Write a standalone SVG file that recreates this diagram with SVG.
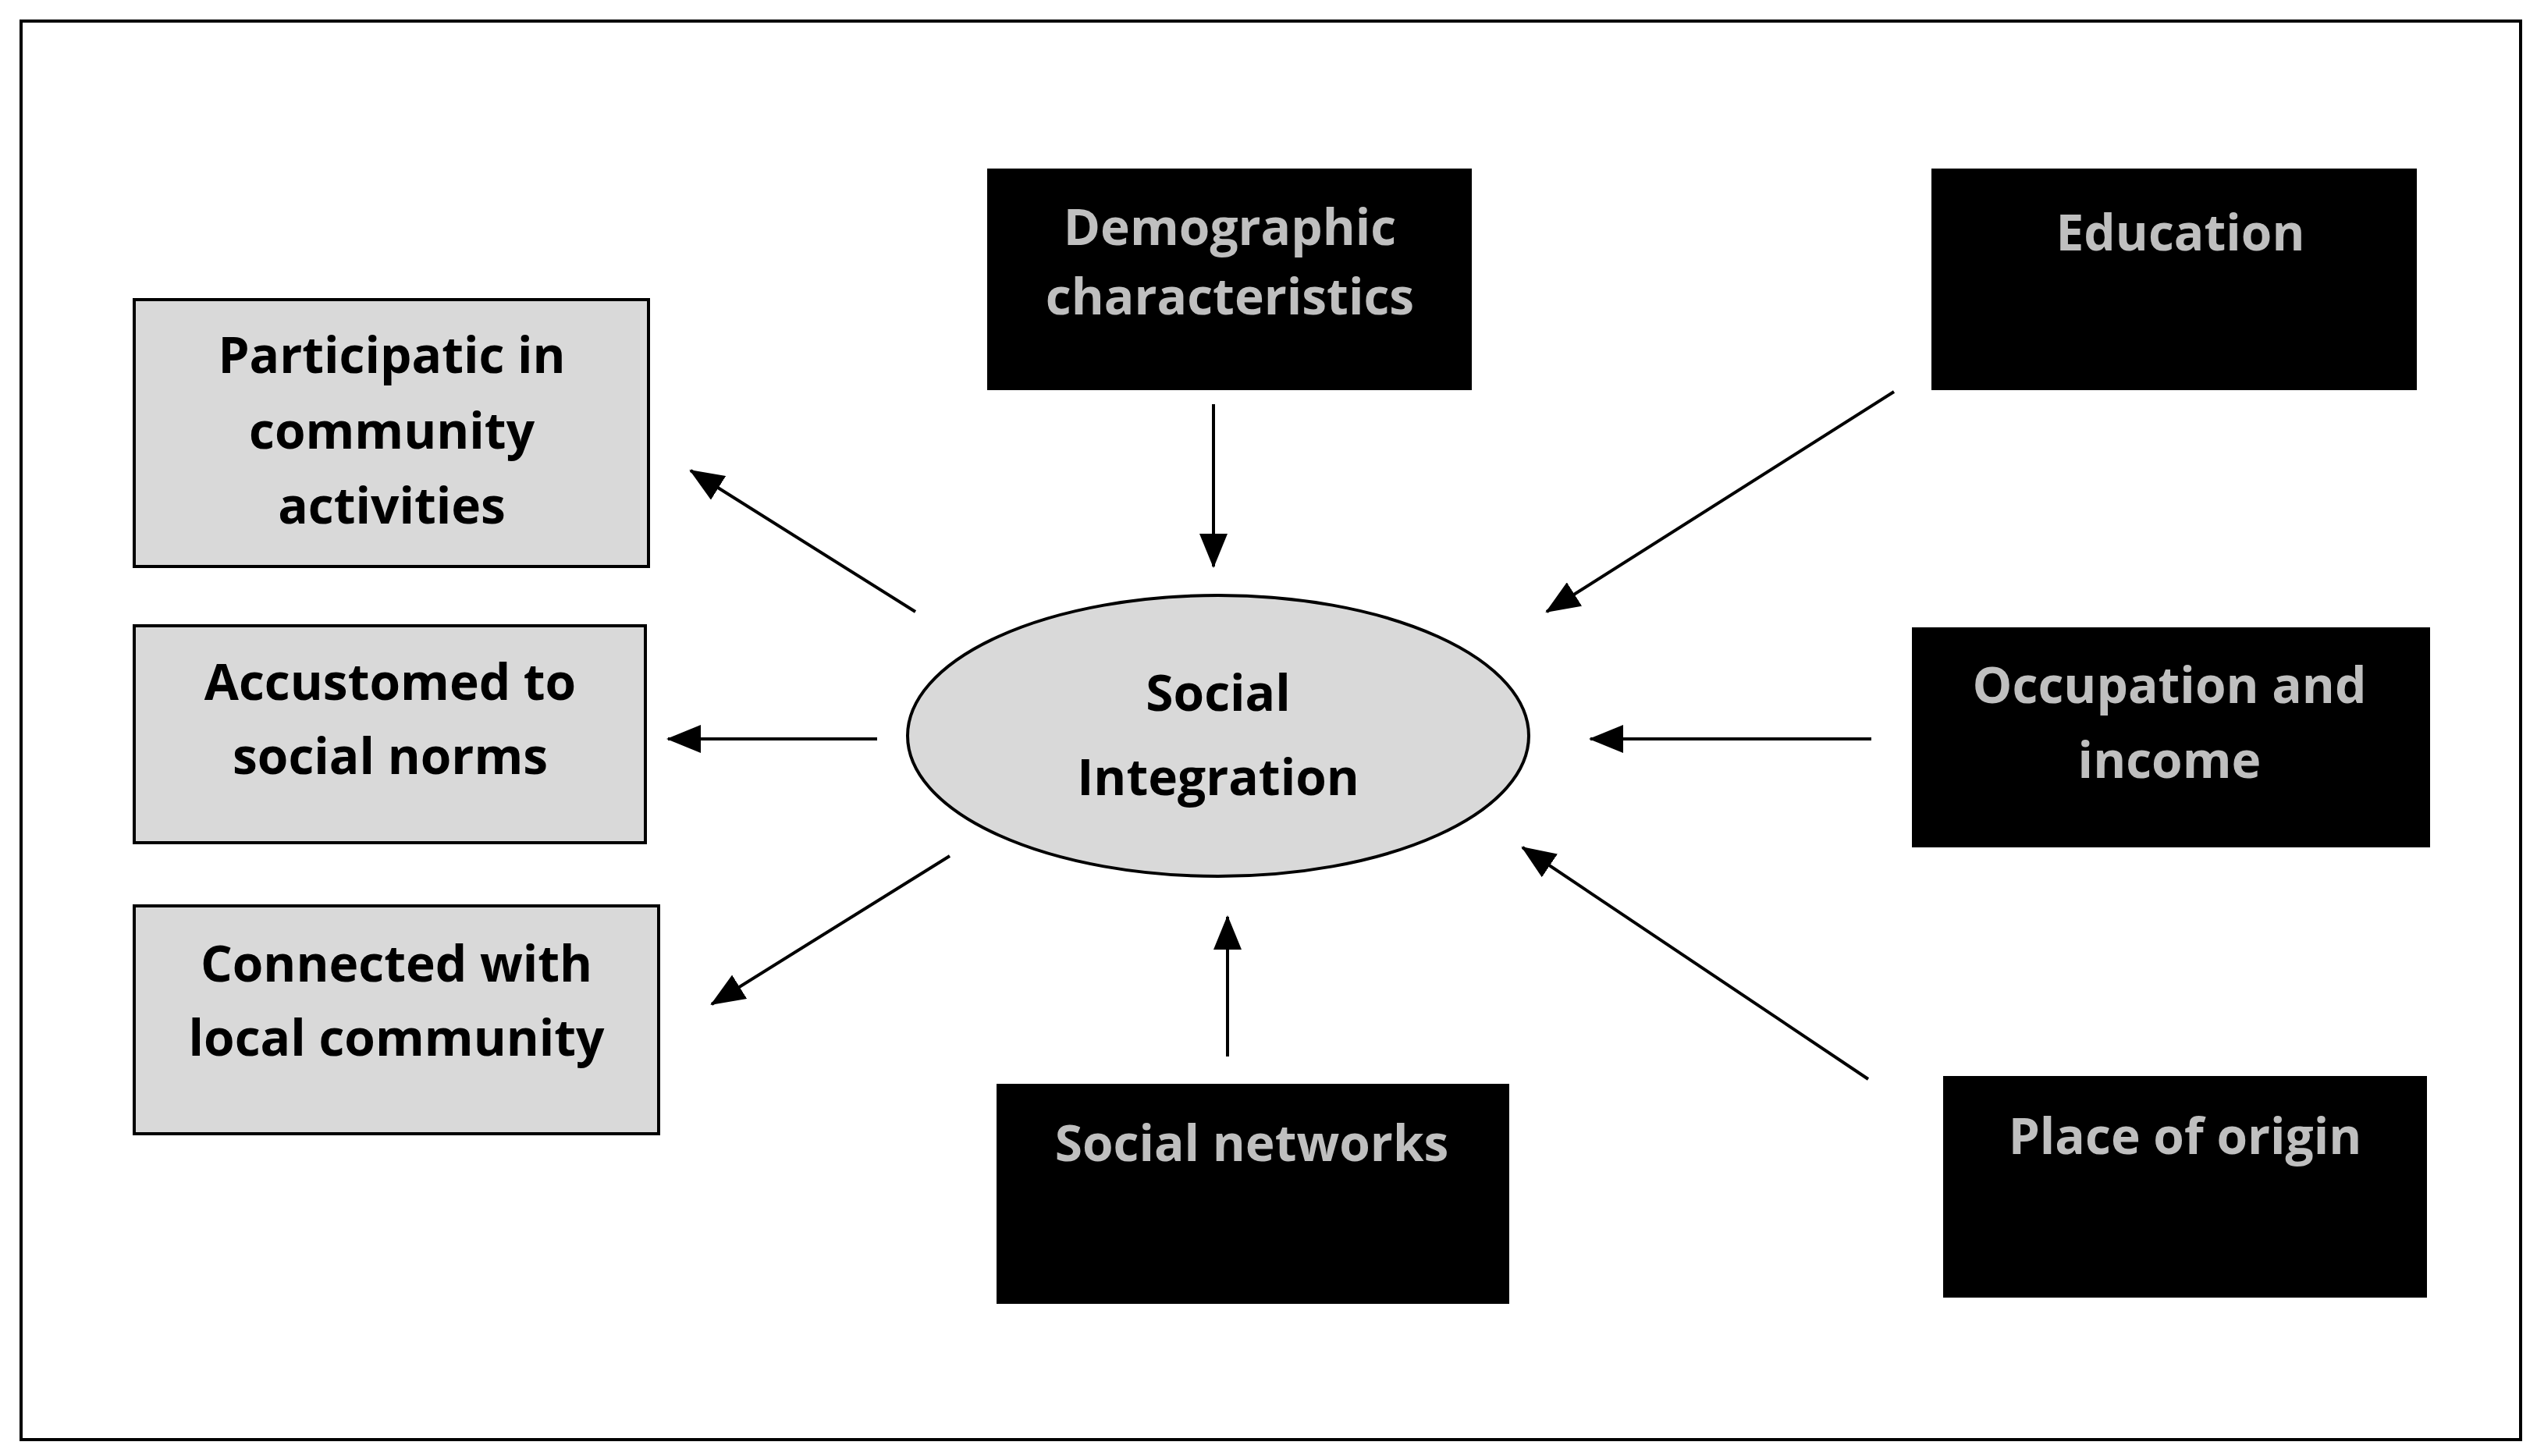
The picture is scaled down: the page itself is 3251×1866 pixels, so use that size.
<svg xmlns="http://www.w3.org/2000/svg" width="3251" height="1866" viewBox="0 0 3251 1866">
<style>
text{font-family:"Open Sans","Liberation Sans",sans-serif;font-weight:bold;font-size:64px;text-anchor:middle}
.dk rect{fill:#000}
.dk text{fill:#bfbfbf}
.lt rect{fill:#d9d9d9;stroke:#000;stroke-width:4}
.lt text{fill:#000}
#connectors line{stroke:#000;stroke-width:4;marker-end:url(#ah)}
</style>
<defs><marker id="ah" markerUnits="userSpaceOnUse" markerWidth="44" markerHeight="36" refX="42" refY="18" orient="auto"><path d="M0,0 L44,18 L0,36 Z" fill="#000"/></marker></defs>
<rect width="3251" height="1866" fill="#fff"/>
<rect x="27" y="27" width="3203" height="1818" fill="none" stroke="#000" stroke-width="4"/>
<g id="demographic" class="dk"><rect x="1265" y="216" width="621" height="284"/><text x="1576" y="314">Demographic</text><text x="1576" y="403">characteristics</text></g>
<g id="education" class="dk"><rect x="2475" y="216" width="622" height="284"/><text x="2794" y="321">Education</text></g>
<g id="occupation" class="dk"><rect x="2450" y="804" width="664" height="282"/><text x="2780" y="901">Occupation and</text><text x="2780" y="997">income</text></g>
<g id="origin" class="dk"><rect x="2490" y="1379" width="620" height="284"/><text x="2800" y="1479">Place of origin</text></g>
<g id="networks" class="dk"><rect x="1277" y="1389" width="657" height="282"/><text x="1604" y="1488">Social networks</text></g>
<g id="participatic" class="lt"><rect x="172" y="384" width="659" height="342"/><text x="502" y="478">Participatic in</text><text x="502" y="575">community</text><text x="502" y="671">activities</text></g>
<g id="accustomed" class="lt"><rect x="172" y="802" width="655" height="278"/><text x="500" y="897">Accustomed to</text><text x="500" y="992">social norms</text></g>
<g id="connected" class="lt"><rect x="172" y="1161" width="672" height="292"/><text x="508" y="1258">Connected with</text><text x="508" y="1353">local community</text></g>
<g id="social" class="lt"><ellipse cx="1561" cy="943" rx="398" ry="180" fill="#d9d9d9" stroke="#000" stroke-width="4"/><text x="1561" y="911">Social</text><text x="1561" y="1019">Integration</text></g>
<g id="connectors">
<line x1="1555" y1="518" x2="1555" y2="726"/>
<line x1="2427" y1="502" x2="1982" y2="784"/>
<line x1="2398" y1="947" x2="2038" y2="947"/>
<line x1="2394" y1="1383" x2="1951" y2="1086"/>
<line x1="1573" y1="1354" x2="1573" y2="1175"/>
<line x1="1173" y1="784" x2="885" y2="603"/>
<line x1="1124" y1="947" x2="856" y2="947"/>
<line x1="1217" y1="1097" x2="912" y2="1287"/>
</g>
</svg>
